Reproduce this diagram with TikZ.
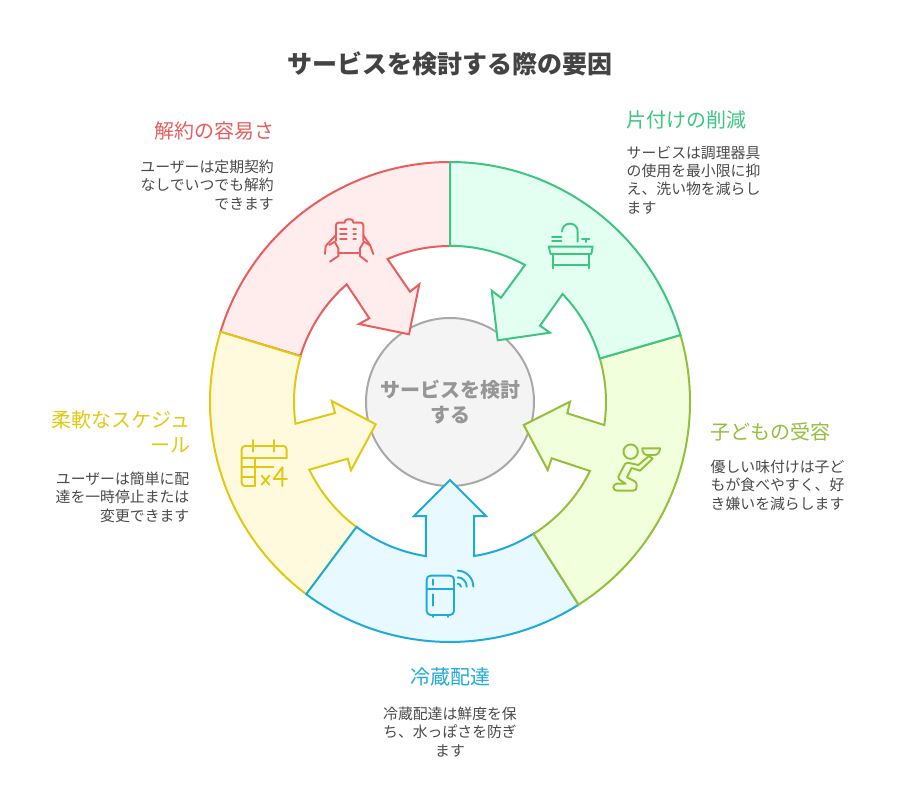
\documentclass[tikz,border=0pt]{standalone}
\usepackage{fontspec}
\setmainfont{Noto Sans CJK JP}
\definecolor{redS}{HTML}{E85D5D}\definecolor{redF}{HTML}{FFEDED}
\definecolor{grnS}{HTML}{3CC583}\definecolor{grnF}{HTML}{E2FFF2}
\definecolor{limS}{HTML}{93BF3C}\definecolor{limF}{HTML}{F2FFDC}
\definecolor{bluS}{HTML}{1EABDA}\definecolor{bluF}{HTML}{E8F9FF}
\definecolor{yelS}{HTML}{E3C812}\definecolor{yelF}{HTML}{FFFADD}
\definecolor{txtD}{HTML}{434343}\definecolor{txtG}{HTML}{4A4A4A}
\definecolor{hubS}{HTML}{A8A8A8}\definecolor{hubF}{HTML}{F4F4F4}\definecolor{hubT}{HTML}{969696}
\tikzset{
 seg/.style={line width=2pt,line join=miter},
 ico/.style={line width=1.9pt,line cap=round,line join=round},
 ttl/.style={inner sep=0pt,font=\fontsize{20}{25}\selectfont},
 dsc/.style={inner sep=0pt,text=txtG,font=\fontsize{14.85}{18.2}\selectfont},
}
\begin{document}
\begin{tikzpicture}[x=1pt,y=-1pt]
\useasboundingbox (0,0) rectangle (900,810);
\fill[white] (0,0) rectangle (900,810);
% centre
\node[circle,minimum size=168pt,inner sep=0pt,line width=2pt,draw=hubS,fill=hubF] (hub) at (450,402) {};
% red
\draw[seg,draw=redS,fill=redF] ([shift={(450,402)}]-163:240) arc[start angle=-163,end angle=-90,radius=240] -- ([shift={(450,402)}]-90:156) arc[start angle=-90,end angle=-113.6,radius=156] -- (410,291.7) -- (419.3,284.3) -- (409,334.3) -- (359,324) -- (369.3,318.3) -- (346.7,284.3) arc[start angle=-131.3,end angle=-163,radius=156] -- cycle;
% yellow
\draw[seg,draw=yelS,fill=yelF] ([shift={(450,402)}]-233.2:240) arc[start angle=-233.2,end angle=-163,radius=240] -- ([shift={(450,402)}]-163:156) arc[start angle=-163,end angle=-188,radius=156] -- (335,413) -- (331.7,401) -- (375.7,424.3) -- (351,470.3) -- (347.7,458.7) -- (309.3,469.7) arc[start angle=-205.7,end angle=-233.2,radius=156] -- cycle;
% blue
\draw[seg,draw=bluS,fill=bluF] ([shift={(450,402)}]-302.4:240) arc[start angle=-302.4,end angle=-233.2,radius=240] -- ([shift={(450,402)}]-233.2:156) arc[start angle=-233.2,end angle=-261.1,radius=156] -- (426,516) -- (414,516) -- (450,480) -- (486,516) -- (474,516) -- (474,556) arc[start angle=-278.9,end angle=-302.4,radius=156] -- cycle;
% lime
\draw[seg,draw=limS,fill=limF] ([shift={(450,402)}]57.6:240) arc[start angle=57.6,end angle=-16.2,radius=240] -- ([shift={(450,402)}]-16.2:156) arc[start angle=-16.2,end angle=8.5,radius=156] -- (567.3,413.3) -- (570,401.7) -- (523.7,425) -- (547.7,470) -- (551.7,458.3) -- (590,471) arc[start angle=26.2,end angle=57.6,radius=156] -- cycle;
% green
\draw[seg,draw=grnS,fill=grnF] ([shift={(450,402)}]-90:240) arc[start angle=-90,end angle=-16.2,radius=240] -- ([shift={(450,402)}]-16.2:156) arc[start angle=-16.2,end angle=-43.8,radius=156] -- (540,325.7) -- (550,332.7) -- (497.7,340.3) -- (491.7,290.7) -- (501,297.7) -- (525,265) arc[start angle=-61.3,end angle=-90,radius=156] -- cycle;
\node[inner sep=0pt,align=center,text=hubT,font=\fontsize{20}{25}\selectfont\bfseries] (hubt) at (450,402) {サービスを検討\\する};
% texts
\node[inner sep=0pt,text=txtD,font=\fontsize{25}{30}\selectfont\bfseries] (title) at (450,64) {サービスを検討する際の要因};
\node[ttl,text=redS,anchor=east] (t1) at (275,131) {解約の容易さ};
\node[dsc,align=right,anchor=north east] (d1) at (274,160) {ユーザーは定期契約\\なしでいつでも解約\\できます};
\node[ttl,text=grnS,anchor=west] (t2) at (626,120) {片付けの削減};
\node[dsc,align=left,anchor=north west] (d2) at (626.5,146) {サービスは調理器具\\の使用を最小限に抑\\え、洗い物を減らし\\ます};
\node[ttl,text=limS,anchor=west] (t3) at (710,432) {子どもの受容};
\node[dsc,align=left,anchor=north west] (d3) at (710.5,460) {優しい味付けは子ど\\もが食べやすく、好\\き嫌いを減らします};
\node[ttl,text=bluS] (t4) at (450,677) {冷蔵配達};
\node[dsc,align=center,anchor=north] (d4) at (450,707) {冷蔵配達は鮮度を保\\ち、水っぽさを防ぎ\\ます};
\node[ttl,text=yelS,align=right,anchor=north east] (t5) at (190.5,410) {柔軟なスケジュ\\ール};
\node[dsc,align=right,anchor=north east] (d5) at (189.5,472) {ユーザーは簡単に配\\達を一時停止または\\変更できます};
% icon: clipboard and hands
\begin{scope}[shift={(320,210)},x=0.3333pt,y=-0.3333pt,ico]
\draw[redS] (48,92) -- (48,46) .. controls (48,41) and (51,38) .. (56,38) -- (74,38) .. controls (74,32) and (77,28) .. (82,28) -- (92,28) .. controls (97,28) and (100,32) .. (100,38) -- (122,38) .. controls (127,38) and (130,41) .. (130,46) -- (130,92);
\draw[redS] (55,130) -- (120,130);
\draw[redS] (60,57) -- (80,57) (60,72) -- (80,72) (60,87) -- (80,87) (100,57) -- (108,57) (100,72) -- (108,72) (100,87) -- (108,87);
\draw[redS] (15,132) -- (17,108) -- (47,76);
\draw[redS] (28,105) -- (44,95) -- (55,115) -- (55,138) -- (30,155);
\draw[redS] (160,132) -- (150,105) -- (130,76);
\draw[redS] (148,105) -- (132,95) -- (120,115) -- (120,138) -- (142,155);
\end{scope}
% icon: sink
\begin{scope}[shift={(540,215)},x=0.3333pt,y=-0.3333pt,ico]
\draw[grnS] (66,50) .. controls (66,36) and (76,26) .. (90,26) .. controls (104,26) and (113,36) .. (113,50) -- (113,80);
\draw[grnS] (36,65) -- (64,65) (36,79) -- (64,79);
\draw[grnS] (126,72) -- (148,72) (137,72) -- (137,81);
\draw[grnS] (26,95) -- (158,95) -- (154,117) -- (32,117) -- cycle;
\draw[grnS] (38,117) -- (38,160) (146,117) -- (146,160) (38,150) -- (146,150);
\end{scope}
% icon: calendar
\begin{scope}[shift={(235,435)},x=0.3333pt,y=-0.3333pt,ico]
\draw[yelS] (155,70) -- (155,43) .. controls (155,37) and (151,33) .. (145,33) -- (30,33) .. controls (24,33) and (20,37) .. (20,43) -- (20,143) .. controls (20,149) and (24,153) .. (30,153) -- (60,153);
\draw[yelS] (55,15) -- (55,50) (118,15) -- (118,50);
\draw[yelS] (20,70) -- (155,70) (20,97) -- (115,97) (20,125) -- (60,125) (60,70) -- (60,153);
\draw[yelS] (80,122) -- (103,149) (103,122) -- (80,149);
\draw[yelS] (142,153) -- (142,97) -- (116,132) -- (156,132);
\end{scope}
% icon: kneeling person
\begin{scope}[shift={(605,440)},x=0.3333pt,y=-0.3333pt,ico]
\draw[limS] (77,35) circle[radius=7.2pt];
\draw[limS] (112,25) -- (165,25) .. controls (165,36) and (158,45) .. (148,45) -- (127,45) .. controls (117,45) and (112,36) .. (112,25) -- cycle;
\draw[limS] (132,48) -- (143,56) -- (105,92) -- (80,84) -- (66,112) -- (90,124) .. controls (95,127) and (95,133) .. (95,140) .. controls (95,147) and (92,152) .. (85,152) -- (36,152) .. controls (30,152) and (25,148) .. (25,142) .. controls (25,136) and (30,131) .. (36,131) -- (62,131) -- (42,118) -- (40,110) -- (60,72) -- (68,68) -- (100,75) -- cycle;
\end{scope}
% icon: fridge
\begin{scope}[shift={(420,565)},x=0.3333pt,y=-0.3333pt,ico]
\draw[bluS,rounded corners=4pt] (20,32) rectangle (102,150);
\draw[bluS] (20,72) -- (102,72) (38,44) -- (38,60) (38,88) -- (38,122) (38,150) -- (38,156) (84,150) -- (84,156);
\draw[bluS] (113,17) .. controls (139,17) and (160,39) .. (160,65) (113,37) .. controls (128,37) and (140,50) .. (140,65) (113,56) .. controls (118,56) and (123,60) .. (123,65);
\end{scope}
\end{tikzpicture}
\end{document}
